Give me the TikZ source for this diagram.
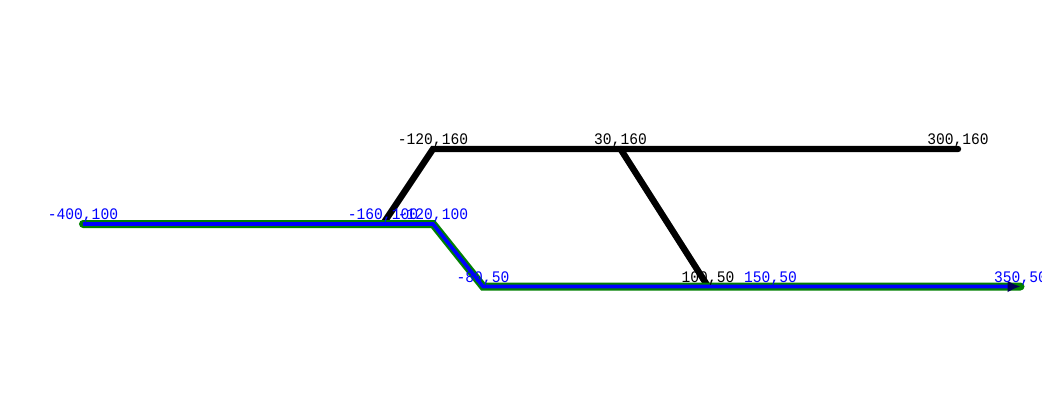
\documentclass[tikz,border=0pt]{standalone}
\usepackage{fontspec}
\setmonofont{Liberation Mono}
\usetikzlibrary{arrows.meta}
\begin{document}
\begin{tikzpicture}[x=0.625pt,y=0.625pt,
  lbl/.style={font=\ttfamily\fontsize{7.3pt}{8pt}\selectfont,anchor=base,inner sep=0pt,yshift=2.2pt,yscale=1.1},
  bl/.style={lbl,text=blue},
  bk/.style={lbl,text=black},
  blackline/.style={line width=3.2pt,line cap=round,line join=miter,draw=black},
  greenline/.style={line width=4pt,line cap=round,draw=green!50!black},
  blueline/.style={line width=1.8pt,draw=blue}]
\useasboundingbox (-466.4,-55.2) rectangle (367.2,279.2);
% points
\coordinate (a1) at (-400,100);
\coordinate (a2) at (-120,100);
\coordinate (a3) at (-80,50);
\coordinate (a4) at (350,50);
\coordinate (b1) at (-160,100);
\coordinate (b2) at (-120,160);
\coordinate (b3) at (300,160);
\coordinate (c1) at (30,160);
\coordinate (c2) at (100,50);
\coordinate (d1) at (150,50);
% black lines
\draw[blackline] (b1) -- (b2) -- (b3);
\draw[blackline] (c1) -- (c2);
% green/blue path
\draw[greenline] (a1) -- (a2) -- (a3) -- (a4);
\draw[blueline,-{Latex[length=6.5pt,width=6pt,color=blue!35!black]}] (a1) -- (a2) -- (a3) -- (a4);
% labels
\node[bk] (lb2) at (b2) {-120,160};
\node[bk] (lc1) at (c1) {30,160};
\node[bk] (lb3) at (b3) {300,160};
\node[bk] (lc2) at (c2) {100,50};
\node[bl] (la1) at (a1) {-400,100};
\node[bl] (lb1) at (b1) {-160,100};
\node[bl] (la2) at (a2) {-120,100};
\node[bl] (la3) at (a3) {-80,50};
\node[bl] (ld1) at (d1) {150,50};
\node[bl] (la4) at (a4) {350,50};
\end{tikzpicture}
\end{document}
